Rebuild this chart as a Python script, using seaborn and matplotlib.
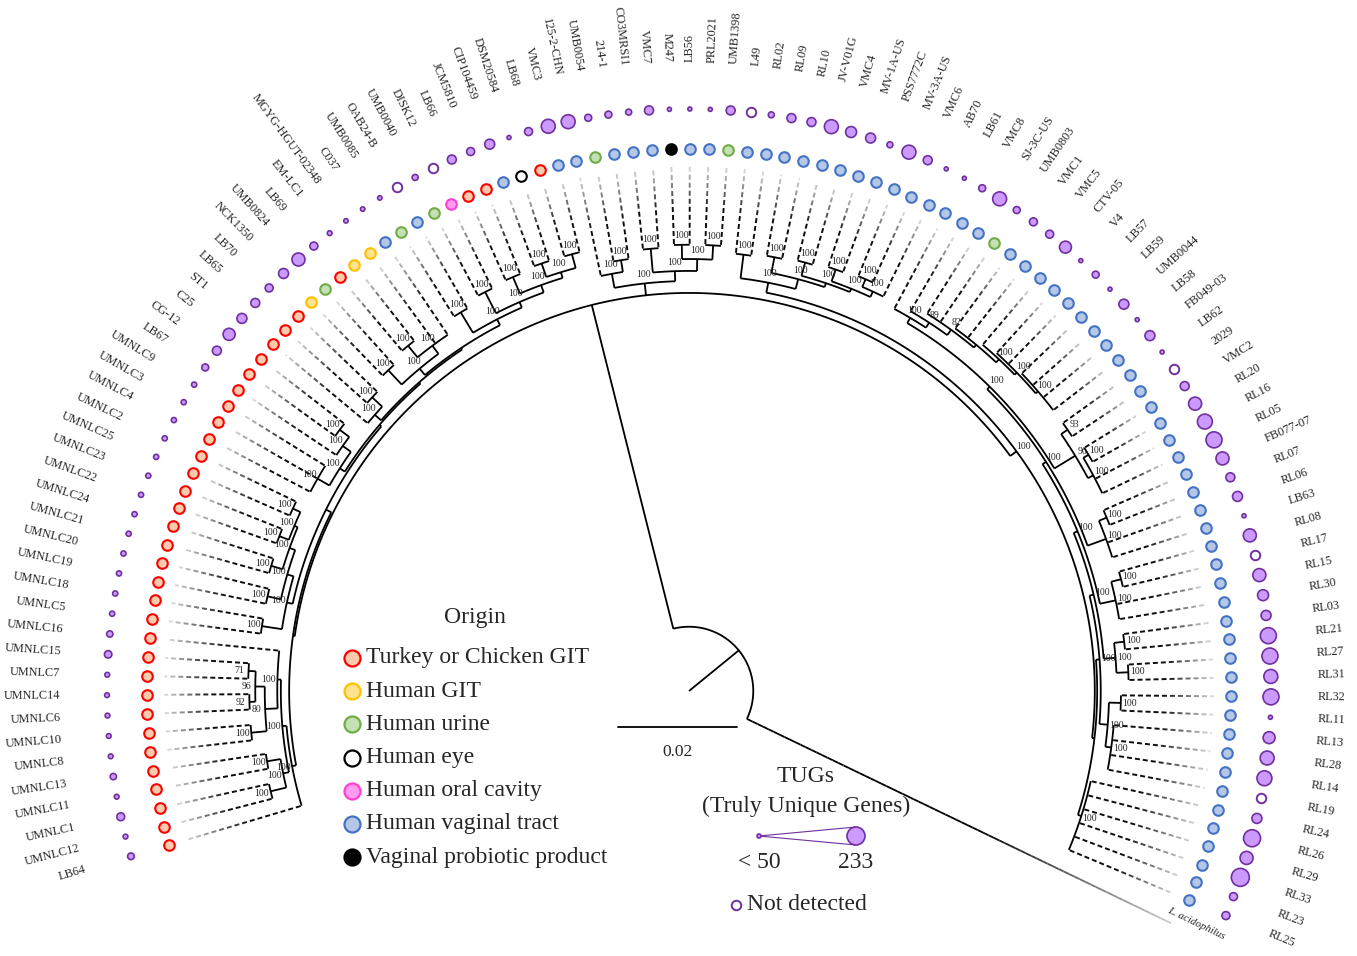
import numpy as np
import pandas as pd
import matplotlib
matplotlib.use("Agg")
import matplotlib.pyplot as plt
import seaborn as sns
from matplotlib.collections import LineCollection

# ---------------------------------------------------------------- data
strains = ["LB64", "UMNLC12", "UMNLC1", "UMNLC11", "UMNLC13", "UMNLC8", "UMNLC10", "UMNLC6", "UMNLC14", "UMNLC7",
           "UMNLC15", "UMNLC16", "UMNLC5", "UMNLC18", "UMNLC19", "UMNLC20", "UMNLC21", "UMNLC24", "UMNLC22", "UMNLC23",
           "UMNLC25", "UMNLC2", "UMNLC4", "UMNLC3", "UMNLC9", "LB67", "CG-12", "C25", "ST1", "LB65",
           "LB70", "NCK1350", "UMB0824", "LB69", "EM-LC1", "MGYG-HGUT-02348", "C037", "UMB0085", "OAB24-B", "UMB0040",
           "DISK12", "LB66", "JCM5810", "CIP104459", "DSM20584", "LB68", "VMC3", "125-2-CHN", "UMB0054", "214-1",
           "CO3MRSI1", "VMC7", "M247", "LB56", "PRL2021", "UMB1398", "L49", "RL02", "RL09", "RL10",
           "JV-V01G", "VMC4", "MV-1A-US", "PSS7772C", "MV-3A-US", "VMC6", "AB70", "LB61", "VMC8", "SJ-3C-US",
           "UMB0803", "VMC1", "VMC5", "CTV-05", "V4", "LB57", "LB59", "UMB0044", "LB58", "FB049-03",
           "LB62", "2029", "VMC2", "RL20", "RL16", "RL05", "FB077-07", "RL07", "RL06", "LB63",
           "RL08", "RL17", "RL15", "RL30", "RL03", "RL21", "RL27", "RL31", "RL32", "RL11",
           "RL13", "RL28", "RL14", "RL19", "RL24", "RL26", "RL29", "RL33", "RL23", "RL25"]

# one code per strain (T turkey/chicken GIT, G human GIT, U urine, E eye, O oral, V vaginal, P probiotic)
origin_codes = ("TTTTTTTTTT" "TTTTTTTTTT" "TTTTTTTTTT" "TGUTGGVUVU" "OTTVETVVUV"
                "VVPVVUVVVV" "VVVVVVVVVV" "UVVVVVVVVV" "VVVVVVVVVV" "VVVVVVVVVV" "VVVVVVVVVV")
origin_labels = ["Turkey or Chicken GIT", "Human GIT", "Human urine", "Human eye",
                 "Human oral cavity", "Human vaginal tract", "Vaginal probiotic product"]
origin_keys = ["T", "G", "U", "E", "O", "V", "P"]

# truly unique genes per strain (None = not detected, values < 50 drawn at minimum size)
tugs = [85, 60, 100, 60, 80, 60, 60, 60, 60, 60,
        95, 80, 65, 65, 65, 65, 65, 65, 65, 65,
        65, 65, 65, 65, 65, 89, 115, 155, 128, 115,
        102, 128, 168, 102, 60, 55, 55, 55, None, 76,
        None, 115, 102, 128, 40, 102, 180, 180, 89, 89,
        76, 115, 40, 40, 40, 115, None, 76, 115, 115,
        180, 141, 128, 76, 180, 115, 40, 40, 89, 180,
        89, 102, 102, 154, 40, 89, 40, 128, 40, 128,
        40, None, 115, 168, 193, 207, 168, 115, 128, 40,
        168, None, 168, 141, 128, 207, 207, 180, 207, 40,
        154, 180, 193, None, 128, 220, 168, 233, 102, 102]

outgroup = "L. acidophilus"

# clades: first leaf, last leaf (indices into strains), node depth (subst./site), bootstrap
clade_first = [0, 0, 0, 1, 1, 3, 1, 5, 5, 5, 7, 7, 9, 12, 12, 12, 14, 14, 16, 16,
               18, 18, 20, 22, 22, 22, 25, 26, 28, 28, 29, 31, 31, 31, 33, 33, 37, 37, 39, 39,
               41, 41, 43, 43, 45,
               47, 47, 48, 50, 50, 52, 52, 54,
               56, 56, 56, 58, 58, 60, 60, 62, 62, 64, 64, 67, 104, 67, 98, 98, 100, 67,
               94, 94, 96, 67, 90, 90, 67, 86, 86, 67, 80, 80, 82, 82, 67, 68, 69, 71, 73, 74, 76]
clade_last = [109, 46, 11, 4, 2, 4, 11, 11, 10, 6, 10, 8, 10, 46, 21, 13, 21, 15, 21, 17,
              21, 19, 21, 46, 27, 24, 27, 27, 46, 30, 30, 46, 36, 32, 36, 34, 46, 38, 46, 40,
              46, 42, 46, 44, 46,
              55, 49, 49, 55, 51, 55, 53, 55,
              109, 66, 57, 66, 59, 66, 61, 66, 63, 66, 65, 109, 109, 103, 103, 99, 103, 97,
              97, 95, 97, 93, 93, 91, 89, 89, 87, 85, 85, 81, 85, 83, 79, 79, 79, 79, 79, 79, 79]
clade_depth = [0.0669, 0.0672, 0.0679, 0.0696, 0.0723, 0.0719, 0.0686, 0.0692, 0.0713, 0.0739,
               0.0729, 0.0739, 0.0741, 0.0682, 0.0692, 0.0726, 0.0703, 0.0726, 0.0713, 0.0733,
               0.0719, 0.0736, 0.0733, 0.0686, 0.0696, 0.0719, 0.0713, 0.0733, 0.0689, 0.0703,
               0.0726, 0.0692, 0.0706, 0.0739, 0.0723, 0.0748, 0.0703, 0.0743, 0.0713, 0.0753,
               0.0726, 0.0756, 0.0736, 0.0760, 0.0760,
               0.0689, 0.0713, 0.0733, 0.0706, 0.0746, 0.0726, 0.0750, 0.0750,
               0.0682, 0.0699, 0.0739, 0.0716, 0.0743, 0.0723, 0.0746, 0.0729, 0.0750, 0.0739,
               0.0753, 0.0686, 0.0692, 0.0692, 0.0706, 0.0726, 0.0716, 0.0699,
               0.0719, 0.0736, 0.0739, 0.0706, 0.0733, 0.0750, 0.0713, 0.0746, 0.0760, 0.0719,
               0.0760, 0.0773, 0.0770, 0.0780, 0.0729, 0.0739, 0.0750, 0.0756, 0.0763, 0.0768, 0.0773]
clade_support = [None, None, 100, 100, 100, 100, 100, 100, 80, 100,
                 96, 92, 71, None, 100, 100, 100, 100, 100, 100,
                 100, 100, 100, None, 100, 100, 100, 100, None, 100,
                 100, None, 100, 100, 100, 100, 100, 100, 100, 100,
                 100, 100, 100, 100, 100,
                 100, 100, 100, 100, 100, 100, 100, 100,
                 100, 100, 100, 100, 100, 100, 100, 100, 100, 100,
                 100, None, 100, 100, 100, 100, 100, 100,
                 100, 100, 100, 100, 100, 100, 100, 100, 100, 100,
                 96, 93, 100, 100, 100, 89, 82, None, 100, 100, 100]

root_depth = 0.0108
tip_depth = 0.0882
outgroup_depth = 0.0899
scale_length = 0.02

# ---------------------------------------------------------------- style / layout
sns.set_style("white")
plt.rcParams["font.family"] = ["Liberation Serif", "DejaVu Serif"]

fill_col = {"T": "#f8cbad", "G": "#ffe38f", "U": "#c5e0b4", "E": "#ffffff",
            "O": "#ff9cf0", "V": "#b4c7e7", "P": "#000000"}
edge_col = {"T": "#ff0000", "G": "#ffc000", "U": "#70ad47", "E": "#000000",
            "O": "#ff3fd2", "V": "#4472c4", "P": "#000000"}
TUG_FILL, TUG_EDGE = "#cc99ff", "#7030a0"

W, H = 1357, 956
CX, CY = 689, 691
START, STEP = 196.5, 2.011
PX = 119 / scale_length          # pixels per substitution/site
R_ORIGIN, R_TUG, R_LABEL = 542, 582, 629

fig = plt.figure(figsize=(W / 100, H / 100), dpi=100)
ax = fig.add_axes([0, 0, 1, 1])
ax.set_xlim(0, W)
ax.set_ylim(H, 0)
ax.axis("off")


def xy(r, th):
    t = np.deg2rad(th)
    return CX + r * np.cos(t), CY - r * np.sin(t)


n = len(strains)
theta = START - STEP * np.arange(n)
theta_out = START - STEP * (n + 0.5)
R_TIP = tip_depth * PX

# ---------------------------------------------------------------- tree topology
nc = len(clade_first)
span = [clade_last[i] - clade_first[i] for i in range(nc)]


def smallest_containing(lo, hi, exclude=None):
    best = None
    for j in range(nc):
        if j == exclude:
            continue
        if clade_first[j] <= lo and hi <= clade_last[j] and span[j] > hi - lo:
            if best is None or span[j] < span[best]:
                best = j
    return best


children = {j: [] for j in range(nc)}
top = None
for i in range(nc):
    p = smallest_containing(clade_first[i], clade_last[i], exclude=i)
    if p is None:
        top = i
    else:
        children[p].append(("n", i, clade_first[i]))
for k in range(n):
    p = smallest_containing(k, k)
    children[p].append(("l", k, k))
for j in children:
    children[j].sort(key=lambda c: c[2])

node_angle = {}


def angle_of(kind, idx):
    if kind == "l":
        return theta[idx]
    if idx in node_angle:
        return node_angle[idx]
    ch = children[idx]
    a = 0.5 * (angle_of(ch[0][0], ch[0][1]) + angle_of(ch[-1][0], ch[-1][1]))
    node_angle[idx] = a
    return a


for j in range(nc):
    angle_of("n", j)

solid, dash_segs, dash_cols = [], [], []


def arc(r, a0, a1):
    m = max(2, int(abs(a1 - a0) * 3))
    th = np.linspace(a0, a1, m)
    xs, ys = xy(r, th)
    return np.column_stack([xs, ys])


def dashed(th, r0, r1, dash=5.0, gap=3.0):
    fade0 = r0 + 0.45 * (r1 - r0)
    r = r0 + 1.0
    while r < r1:
        re = min(r + dash, r1)
        mid = 0.5 * (r + re)
        f = np.clip((mid - fade0) / (r1 - fade0), 0, 1)
        g = 0.05 + 0.82 * f
        dash_segs.append([xy(r, th), xy(re, th)])
        dash_cols.append((g, g, g))
        r = re + gap


for j in range(nc):
    rj = clade_depth[j] * PX
    ch = children[j]
    a_first = angle_of(ch[0][0], ch[0][1])
    a_last = angle_of(ch[-1][0], ch[-1][1])
    solid.append(arc(rj, a_first, a_last))
    for kind, idx, _ in ch:
        a = angle_of(kind, idx)
        if kind == "n":
            solid.append(np.array([xy(rj, a), xy(clade_depth[idx] * PX, a)]))
        else:
            dashed(a, rj, R_TIP)

# root, stem, outgroup
r_root = root_depth * PX
a_in = node_angle[top]
a_root = 0.5 * (a_in + theta_out)
solid.append(arc(r_root, a_in, theta_out))
solid.append(np.array([xy(r_root, a_in), xy(clade_depth[top] * PX, a_in)]))
solid.append(np.array([xy(0, a_root), xy(r_root, a_root)]))

ax.add_collection(LineCollection(solid, colors="black", linewidths=1.3, capstyle="butt", zorder=2))
ax.add_collection(LineCollection(dash_segs, colors=dash_cols, linewidths=1.4, capstyle="butt", zorder=2))

r_out = outgroup_depth * PX
rr = np.linspace(r_root, r_out, 80)
out_segs, out_cols = [], []
for a0, a1 in zip(rr[:-1], rr[1:]):
    f = np.clip(((a0 + a1) / 2 - (r_root + 0.55 * (r_out - r_root))) / (0.45 * (r_out - r_root)), 0, 1)
    g = 0.0 + 0.8 * f
    out_segs.append([xy(a0, theta_out), xy(a1, theta_out)])
    out_cols.append((g, g, g))
ax.add_collection(LineCollection(out_segs, colors=out_cols, linewidths=1.3, zorder=2))
ox_, oy_ = xy(r_out - 8, theta_out + 1.2)
ax.text(ox_, oy_, outgroup, rotation=theta_out, rotation_mode="anchor", ha="left", va="center",
        fontsize=7.8, style="italic")

# bootstrap values
for j in range(nc):
    if clade_support[j] is None:
        continue
    bx, by = xy(clade_depth[j] * PX + 9, node_angle[j])
    ax.text(bx, by, str(clade_support[j]), fontsize=7, ha="center", va="center", zorder=3)

# ---------------------------------------------------------------- rings of circles
df = pd.DataFrame({"strain": strains, "code": list(origin_codes), "tugs": tugs, "theta": theta})
df["ox"], df["oy"] = xy(R_ORIGIN, df["theta"].to_numpy())
df["tx"], df["ty"] = xy(R_TUG, df["theta"].to_numpy())

for key in origin_keys:
    sub = df[df["code"] == key]
    if len(sub):
        sns.scatterplot(x=sub["ox"].to_numpy(), y=sub["oy"].to_numpy(), color=fill_col[key],
                        edgecolor=edge_col[key], linewidth=1.5, s=58, ax=ax, legend=False, zorder=4)


def tug_diam_px(v):
    v = max(v, 50)
    return 4.0 + 14.0 * (v - 50) / 183.0


det = df[df["tugs"].notna()]
nd = df[df["tugs"].isna()]
sizes = np.array([(tug_diam_px(v) * 0.72) ** 2 for v in det["tugs"]])
sns.scatterplot(x=det["tx"].to_numpy(), y=det["ty"].to_numpy(), s=sizes, color=TUG_FILL,
                edgecolor=TUG_EDGE, linewidth=1.2, ax=ax, legend=False, zorder=4)
sns.scatterplot(x=nd["tx"].to_numpy(), y=nd["ty"].to_numpy(), s=(9.5 * 0.72) ** 2, color="white",
                edgecolor=TUG_EDGE, linewidth=1.4, ax=ax, legend=False, zorder=4)

# leaf labels
for k in range(n):
    a = theta[k]
    lx, ly = xy(R_LABEL, a)
    if -90 < a < 90:
        rot, ha = a, "left"
    else:
        rot, ha = a - 180, "right"
    ax.text(lx, ly, strains[k], rotation=rot, rotation_mode="anchor", ha=ha, va="center", fontsize=8.8)

# ---------------------------------------------------------------- scale bar
sb_x0, sb_y = 618, 727
ax.plot([sb_x0, sb_x0 + scale_length * PX], [sb_y, sb_y], color="black", lw=1.3)
ax.text(sb_x0 + scale_length * PX / 2, sb_y + 25, f"{scale_length:.2f}", ha="center", va="center", fontsize=12.5)

# ---------------------------------------------------------------- origin legend
ax.text(475, 617, "Origin", ha="center", va="center", fontsize=17)
lg_y0, lg_dy = 658, 33.2
for i, (key, lab) in enumerate(zip(origin_keys, origin_labels)):
    yy = lg_y0 + i * lg_dy
    ax.scatter([352], [yy], s=(16 * 0.72) ** 2, color=fill_col[key], edgecolor=edge_col[key],
               linewidth=1.6, zorder=4)
    ax.text(366, yy, lab, ha="left", va="center", fontsize=17)

# ---------------------------------------------------------------- TUG legend
ax.text(806, 776, "TUGs", ha="center", va="center", fontsize=17)
ax.text(806, 806, "(Truly Unique Genes)", ha="center", va="center", fontsize=17)
small_x, big_x, leg_y = 759, 856, 836
d_small, d_big = tug_diam_px(50), tug_diam_px(233)
ax.plot([small_x, big_x], [leg_y, leg_y - d_big / 2], color=TUG_EDGE, lw=0.8, zorder=3)
ax.plot([small_x, big_x], [leg_y, leg_y + d_big / 2], color=TUG_EDGE, lw=0.8, zorder=3)
ax.scatter([small_x, big_x], [leg_y, leg_y], s=[(d_small * 0.72) ** 2, (d_big * 0.72) ** 2],
           color=TUG_FILL, edgecolor=TUG_EDGE, linewidth=1.2, zorder=4)
ax.text(small_x, 862, "< 50", ha="center", va="center", fontsize=17)
ax.text(big_x, 862, "233", ha="center", va="center", fontsize=17)
ax.scatter([736], [905], s=(9.5 * 0.72) ** 2, color="white", edgecolor=TUG_EDGE, linewidth=1.4, zorder=4)
ax.text(747, 905, "Not detected", ha="left", va="center", fontsize=17)

fig.savefig("out.png", dpi=100, facecolor="white")
